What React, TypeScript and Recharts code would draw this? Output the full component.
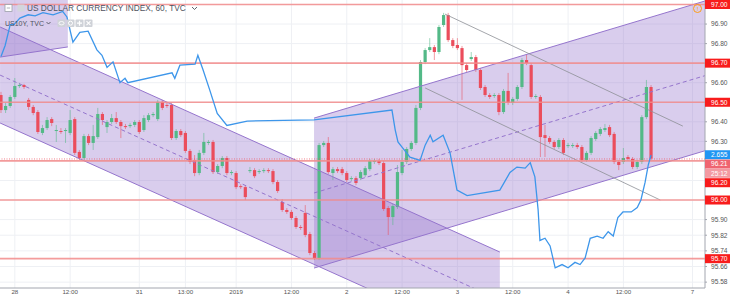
import React from 'react'
import { ComposedChart, Bar, Line, Area, XAxis, YAxis, CartesianGrid, ReferenceLine } from 'recharts'

// DXY hourly candles: [open, high, low, close]
const CANDLES: [number, number, number, number][] = [
  [96.537, 96.553, 96.445, 96.460], [96.460, 96.497, 96.445, 96.481], [96.481, 96.537, 96.471, 96.527],
  [96.527, 96.624, 96.517, 96.583], [96.583, 96.599, 96.573, 96.588], [96.588, 96.594, 96.568, 96.578],
  [96.512, 96.522, 96.460, 96.476], [96.476, 96.486, 96.434, 96.445], [96.450, 96.460, 96.338, 96.348],
  [96.343, 96.384, 96.332, 96.368], [96.368, 96.424, 96.358, 96.409], [96.414, 96.424, 96.378, 96.394],
  [96.353, 96.384, 96.297, 96.358], [96.353, 96.368, 96.338, 96.348], [96.353, 96.368, 96.292, 96.358],
  [96.343, 96.460, 96.332, 96.409], [96.414, 96.424, 96.230, 96.241], [96.246, 96.256, 96.205, 96.215],
  [96.215, 96.338, 96.205, 96.327], [96.327, 96.338, 96.281, 96.292], [96.292, 96.384, 96.256, 96.327],
  [96.322, 96.471, 96.312, 96.440], [96.440, 96.450, 96.384, 96.409], [96.373, 96.409, 96.343, 96.399],
  [96.399, 96.440, 96.389, 96.419], [96.419, 96.450, 96.389, 96.399], [96.399, 96.409, 96.317, 96.378],
  [96.378, 96.389, 96.363, 96.373], [96.378, 96.394, 96.368, 96.384], [96.384, 96.409, 96.373, 96.399],
  [96.399, 96.409, 96.338, 96.348], [96.358, 96.434, 96.348, 96.419], [96.409, 96.445, 96.399, 96.434],
  [96.434, 96.450, 96.424, 96.440], [96.414, 96.512, 96.404, 96.502], [96.502, 96.512, 96.460, 96.471],
  [96.486, 96.497, 96.471, 96.481], [96.486, 96.497, 96.307, 96.317], [96.317, 96.363, 96.307, 96.353],
  [96.353, 96.363, 96.322, 96.332], [96.343, 96.353, 96.241, 96.251], [96.251, 96.261, 96.184, 96.195],
  [96.205, 96.230, 96.122, 96.138], [96.138, 96.256, 96.127, 96.241], [96.241, 96.343, 96.230, 96.297],
  [96.292, 96.307, 96.281, 96.297], [96.297, 96.307, 96.133, 96.143], [96.143, 96.184, 96.133, 96.174],
  [96.174, 96.225, 96.163, 96.215], [96.215, 96.225, 96.127, 96.138], [96.138, 96.153, 96.127, 96.143],
  [96.138, 96.148, 96.056, 96.066], [96.071, 96.081, 96.056, 96.066], [96.066, 96.076, 96.000, 96.015],
  [96.148, 96.169, 96.138, 96.153], [96.153, 96.163, 96.112, 96.122], [96.143, 96.158, 96.133, 96.148],
  [96.148, 96.163, 96.138, 96.153], [96.153, 96.163, 96.138, 96.148], [96.148, 96.158, 96.081, 96.092],
  [96.092, 96.102, 96.036, 96.046], [95.990, 96.005, 95.939, 95.949], [95.949, 95.959, 95.929, 95.939],
  [95.939, 95.949, 95.898, 95.908], [95.908, 95.918, 95.852, 95.862], [95.862, 95.872, 95.847, 95.857],
  [95.934, 95.974, 95.810, 95.821], [95.826, 95.837, 95.718, 95.729], [95.729, 95.739, 95.693, 95.703],
  [95.703, 96.292, 95.693, 96.281], [96.281, 96.302, 96.271, 96.292], [96.292, 96.322, 96.133, 96.143],
  [96.138, 96.169, 96.102, 96.158], [96.158, 96.169, 96.138, 96.148], [96.158, 96.169, 96.127, 96.138],
  [96.138, 96.148, 96.092, 96.102], [96.107, 96.122, 96.097, 96.112], [96.112, 96.122, 96.076, 96.087],
  [96.112, 96.153, 96.102, 96.143], [96.127, 96.174, 96.117, 96.163], [96.158, 96.210, 96.148, 96.200],
  [96.195, 96.210, 96.184, 96.200], [96.200, 96.210, 96.179, 96.189], [96.189, 96.200, 95.944, 95.954],
  [95.959, 95.969, 95.821, 95.913], [95.913, 95.980, 95.872, 95.969], [95.964, 96.179, 95.954, 96.143],
  [96.138, 96.256, 96.127, 96.195], [96.195, 96.271, 96.184, 96.261], [96.261, 96.302, 96.251, 96.292],
  [96.292, 96.486, 96.281, 96.471], [96.471, 96.716, 96.460, 96.706], [96.706, 96.777, 96.695, 96.767],
  [96.767, 96.828, 96.757, 96.782], [96.782, 96.793, 96.716, 96.757], [96.757, 96.895, 96.746, 96.885],
  [96.895, 96.957, 96.885, 96.946], [96.946, 96.957, 96.808, 96.818], [96.818, 96.828, 96.777, 96.788],
  [96.793, 96.828, 96.767, 96.777], [96.777, 96.788, 96.512, 96.690], [96.690, 96.701, 96.655, 96.665],
  [96.721, 96.757, 96.711, 96.731], [96.731, 96.742, 96.655, 96.665], [96.665, 96.675, 96.563, 96.573],
  [96.578, 96.588, 96.527, 96.537], [96.537, 96.547, 96.517, 96.527], [96.532, 96.547, 96.522, 96.537],
  [96.537, 96.547, 96.434, 96.450], [96.450, 96.568, 96.440, 96.558], [96.558, 96.650, 96.486, 96.497],
  [96.497, 96.527, 96.486, 96.517], [96.517, 96.588, 96.507, 96.578], [96.578, 96.726, 96.568, 96.716],
  [96.716, 96.746, 96.690, 96.701], [96.690, 96.701, 96.517, 96.527], [96.527, 96.542, 96.517, 96.532],
  [96.527, 96.537, 96.220, 96.322], [96.332, 96.384, 96.220, 96.317], [96.317, 96.327, 96.287, 96.297],
  [96.297, 96.307, 96.261, 96.271], [96.271, 96.317, 96.261, 96.307], [96.307, 96.317, 96.230, 96.241],
  [96.276, 96.292, 96.266, 96.281], [96.276, 96.292, 96.266, 96.281], [96.281, 96.292, 96.261, 96.271],
  [96.271, 96.281, 96.195, 96.205], [96.205, 96.251, 96.195, 96.241], [96.241, 96.327, 96.230, 96.317],
  [96.312, 96.353, 96.302, 96.343], [96.338, 96.373, 96.327, 96.363], [96.358, 96.389, 96.348, 96.368],
  [96.373, 96.384, 96.322, 96.332], [96.338, 96.348, 96.184, 96.195], [96.195, 96.205, 96.153, 96.179],
  [96.195, 96.266, 96.184, 96.215], [96.220, 96.230, 96.200, 96.210], [96.210, 96.220, 96.158, 96.169],
  [96.169, 96.205, 96.158, 96.195], [96.195, 96.434, 96.184, 96.424], [96.424, 96.614, 96.414, 96.578],
  [96.578, 96.588, 96.205, 96.212],
]

// US10Y overlay: [bar index, yield]
const UST10Y: [number, number][] = [
  [0, 2.745], [0.9, 2.755], [2.0, 2.774], [2.8, 2.774], [4.1, 2.780], [5.9, 2.783], [7.4, 2.782],
  [9.1, 2.785], [11.3, 2.783], [13.4, 2.786], [14.3, 2.781], [15.6, 2.758], [17.1, 2.767], [18.9, 2.768],
  [20.8, 2.751], [21.9, 2.746], [23.0, 2.735], [24.3, 2.740], [25.8, 2.721], [26.9, 2.725], [27.5, 2.721],
  [37.1, 2.730], [37.7, 2.725], [38.8, 2.737], [42.1, 2.738], [42.7, 2.746], [43.8, 2.733], [45.3, 2.714],
  [46.9, 2.693], [49.0, 2.682], [53.4, 2.686], [67.9, 2.687], [84.8, 2.696], [85.5, 2.678], [86.1, 2.667],
  [87.2, 2.661], [88.7, 2.653], [90.9, 2.650], [92.0, 2.664], [93.1, 2.673], [93.7, 2.667], [95.9, 2.673],
  [97.4, 2.657], [98.5, 2.632], [98.9, 2.623], [101.1, 2.618], [108.2, 2.623], [110.4, 2.639],
  [111.9, 2.644], [113.7, 2.643], [114.8, 2.648], [115.8, 2.635], [116.5, 2.605], [116.9, 2.577],
  [118.0, 2.579], [119.1, 2.572], [120.2, 2.552], [121.7, 2.555], [123.0, 2.552], [124.5, 2.557],
  [125.6, 2.555], [126.7, 2.561], [127.8, 2.579], [129.3, 2.581], [130.6, 2.579], [131.7, 2.585],
  [132.8, 2.581], [133.8, 2.598], [134.9, 2.603], [136.7, 2.603], [138.0, 2.607], [138.8, 2.614],
  [139.7, 2.630], [140.4, 2.646], [141.0, 2.655],
]

const TIME_TICKS = [3, 15, 30, 40, 51, 63, 75, 87, 99, 111, 123, 135, 150]
const TIME_LABELS = ['28', '12:00', '31', '13:00', '2019', '12:00', '2', '12:00', '3', '12:00', '4', '12:00', '7']

const PRICE_TICKS = [97, 96.9, 96.8, 96.7, 96.6, 96.5, 96.4, 96.3, 96.21, 96.2, 96, 95.9, 95.82, 95.74, 95.7, 95.66, 95.58]
const GRID_PRICES = [97, 96.9, 96.8, 96.7, 96.6, 96.5, 96.4, 96.3, 96.2, 96.1, 96, 95.9, 95.82, 95.74, 95.66, 95.58]
const LEVELS = [97, 96.7, 96.5, 96.2, 96, 95.7]
const LAST_PRICE = 96.21
const COUNTDOWN = '25:12'

// drawings, anchors as [bar index, price]
const OLD_LOWER = [[-0.2, 96.731], [14.5, 96.783]]
const OLD_UPPER = [[-0.2, 97.3], [14.5, 97.3]]
const DOWN_UPPER = [[-0.2, 96.885], [108.2, 95.734]]
const DOWN_MID = [[-0.2, 96.639], [108.2, 95.489]]
const DOWN_LOWER = [[-0.2, 96.394], [108.2, 95.243]]
const UP_UPPER = [[67.9, 96.419], [152.7, 97.018]]
const UP_MID = [[67.9, 96.036], [152.7, 96.636]]
const UP_LOWER = [[67.9, 95.652], [152.7, 96.252]]
const GREY_UPPER = [[96.3, 96.951], [147.9, 96.378]]
const GREY_LOWER = [[92.0, 96.573], [143.0, 96.0]]

const GREEN = '#53b987'
const RED = '#eb4d5c'
const PURPLE = '#9575cd'
const FONT = '"Liberation Sans", Arial, sans-serif'
const BODY = 3.2

const Candle = (props: any) => {
  const { x, y, width, height, payload } = props
  const { o, h, l, c } = payload
  const top = Math.min(y, y + height)
  const span = Math.abs(height)
  const k = h === l ? 0 : span / (h - l)
  const at = (v: number) => top + (h - v) * k
  const color = c >= o ? GREEN : RED
  const cx = x + width / 2
  const bt = at(Math.max(o, c))
  const bb = at(Math.min(o, c))
  return (
    <g>
      <line x1={cx} x2={cx} y1={top} y2={top + span} stroke={color} strokeWidth={1} opacity={0.55} />
      <rect x={cx - BODY / 2} y={bt} width={BODY} height={Math.max(bb - bt, 1)} fill={color} />
    </g>
  )
}

const Box = ({ x, y, fill, text }: any) => (
  <g>
    <rect x={x} y={y - 4.5} width={25} height={9} fill={fill} />
    <text x={x + 6} y={y + 2.3} fontSize={6.6} fill="#fff">{text}</text>
  </g>
)

const PriceTick = (props: any) => {
  const { x, y, payload } = props
  const v = payload.value
  if (v === LAST_PRICE) {
    return (
      <g>
        <Box x={x} y={y - 4.2} fill="#2196f3" text={UST10Y[UST10Y.length - 1][1].toFixed(3)} />
        <Box x={x} y={y + 5.1} fill="#ef6470" text={LAST_PRICE.toFixed(2)} />
        <Box x={x} y={y + 14.4} fill="#f39aa2" text={COUNTDOWN} />
      </g>
    )
  }
  if (LEVELS.includes(v)) {
    return <Box x={x} y={v === 96.2 ? y + 21.8 : y} fill="#f81c1c" text={v.toFixed(2)} />
  }
  return (
    <g>
      <line x1={x} x2={x + 2} y1={y} y2={y} stroke="#a3a6af" />
      <text x={x + 6} y={y + 2.3} fontSize={6.6} fill="#555">{v.toFixed(2)}</text>
    </g>
  )
}

export default function App() {
  const table = CANDLES.map(([o, h, l, c], i) => ({ i, o, h, l, c, range: [l, h] }))
  const seg = (pts: number[][]) => pts.map(([i, v]) => ({ i, v }))
  const band = (lo: number[][], hi: number[][]) => lo.map(([i, v], k) => ({ i, band: [v, hi[k][1]] }))
  const ust = UST10Y.map(([i, v]) => ({ i, v }))

  return (
    <div style={{ position: 'fixed', left: 0, top: 0, width: 730, height: 297, background: '#fff', fontFamily: FONT }}>
      <ComposedChart width={730} height={297} data={table} margin={{ top: 0, right: 0, bottom: 0, left: 0 }}>
        <CartesianGrid stroke="#eef0f4" horizontalValues={GRID_PRICES} verticalValues={TIME_TICKS} />
        <XAxis
          dataKey="i"
          type="number"
          domain={[-0.217, 152.7]}
          allowDataOverflow
          ticks={TIME_TICKS}
          interval={0}
          tickFormatter={(v) => TIME_LABELS[TIME_TICKS.indexOf(v)]}
          height={9}
          tickSize={0}
          tickMargin={2}
          tick={{ fontSize: 6.2, fill: '#555' }}
          stroke="#a3a6af"
        />
        <YAxis
          orientation="right"
          type="number"
          domain={[95.55, 97.023]}
          allowDataOverflow
          ticks={PRICE_TICKS}
          interval={0}
          width={25}
          tickSize={0}
          tickMargin={0}
          tick={<PriceTick />}
          stroke="#a3a6af"
        />
        <YAxis yAxisId="ust" hide type="number" domain={[2.5336, 2.7965]} allowDataOverflow />

        <Area data={band(OLD_LOWER, OLD_UPPER)} dataKey="band" type="linear" fill={PURPLE} fillOpacity={0.36} stroke="none" isAnimationActive={false} />
        <Area data={band(DOWN_LOWER, DOWN_UPPER)} dataKey="band" type="linear" fill={PURPLE} fillOpacity={0.36} stroke="none" isAnimationActive={false} />
        <Area data={band(UP_LOWER, UP_UPPER)} dataKey="band" type="linear" fill={PURPLE} fillOpacity={0.36} stroke="none" isAnimationActive={false} />

        <Line data={seg(OLD_LOWER)} dataKey="v" stroke={PURPLE} strokeWidth={1} dot={false} isAnimationActive={false} />
        <Line data={seg(DOWN_UPPER)} dataKey="v" stroke={PURPLE} strokeWidth={1} dot={false} isAnimationActive={false} />
        <Line data={seg(DOWN_LOWER)} dataKey="v" stroke={PURPLE} strokeWidth={1} dot={false} isAnimationActive={false} />
        <Line data={seg(DOWN_MID)} dataKey="v" stroke={PURPLE} strokeWidth={1} strokeDasharray="4 3" dot={false} isAnimationActive={false} />
        <Line data={seg(UP_UPPER)} dataKey="v" stroke={PURPLE} strokeWidth={1} dot={false} isAnimationActive={false} />
        <Line data={seg(UP_LOWER)} dataKey="v" stroke={PURPLE} strokeWidth={1} dot={false} isAnimationActive={false} />
        <Line data={seg(UP_MID)} dataKey="v" stroke={PURPLE} strokeWidth={1} strokeDasharray="4 3" dot={false} isAnimationActive={false} />
        <Line data={seg(GREY_UPPER)} dataKey="v" stroke="#8d8f96" strokeWidth={0.8} dot={false} isAnimationActive={false} />
        <Line data={seg(GREY_LOWER)} dataKey="v" stroke="#8d8f96" strokeWidth={0.8} dot={false} isAnimationActive={false} />

        {LEVELS.map((v) => (
          <ReferenceLine key={v} y={v} stroke="#f28b8b" strokeOpacity={0.85} strokeWidth={1.6} />
        ))}
        <ReferenceLine y={LAST_PRICE} stroke={RED} strokeOpacity={0.7} strokeDasharray="1 1.5" />

        <Bar dataKey="range" barSize={3} shape={<Candle />} isAnimationActive={false} />
        <Line data={ust} dataKey="v" yAxisId="ust" stroke="#3d96ea" strokeWidth={1.3} dot={false} isAnimationActive={false} />
      </ComposedChart>

      <svg width={730} height={297} style={{ position: 'absolute', left: 0, top: 0, pointerEvents: 'none' }}>
        <rect x={5} y={4.5} width={7} height={7} fill="#fff" stroke="#9ba0a9" strokeWidth={0.8} />
        <line x1={6.8} x2={10.2} y1={8} y2={8} stroke="#9ba0a9" strokeWidth={0.8} />
        <rect x={17.5} y={4.5} width={7} height={7} fill="#d3d6dc" />
        <text x={27} y={11.3} fontSize={8.3} fill="#50535e">US DOLLAR CURRENCY INDEX, 60, TVC</text>
        <path d="M192 7 L194.5 9.5 L197 7" fill="none" stroke="#50535e" strokeWidth={0.9} />
        <text x={5} y={25.8} fontSize={7} fill="#50535e">US10Y, TVC</text>
        <path d="M46.5 22 L48.5 24 L50.5 22" fill="none" stroke="#50535e" strokeWidth={0.9} />
        {[57.5, 66.5, 75.5, 84.5].map((bx, k) => (
          <g key={bx}>
            <rect x={bx} y={19.5} width={8} height={7.5} rx={1} fill="#cfd2d8" />
            {k === 0 && <ellipse cx={bx + 4} cy={23.2} rx={2.6} ry={1.7} fill="none" stroke="#fff" strokeWidth={0.8} />}
            {k === 1 && <circle cx={bx + 4} cy={23.2} r={2} fill="none" stroke="#fff" strokeWidth={1} />}
            {k === 2 && <path d={`M${bx + 1.5} 23.2 H${bx + 6.5} M${bx + 4} 20.7 V25.7`} stroke="#fff" strokeWidth={1.2} />}
            {k === 3 && <path d={`M${bx + 2} 21.2 L${bx + 6} 25.2 M${bx + 6} 21.2 L${bx + 2} 25.2`} stroke="#fff" strokeWidth={1.1} />}
          </g>
        ))}
        <circle cx={697.5} cy={8.5} r={4} fill="none" stroke="#ff9800" strokeWidth={0.9} />
        <text x={697.5} y={10.8} fontSize={6} fill="#ff9800" textAnchor="middle">!</text>
      </svg>
    </div>
  )
}
